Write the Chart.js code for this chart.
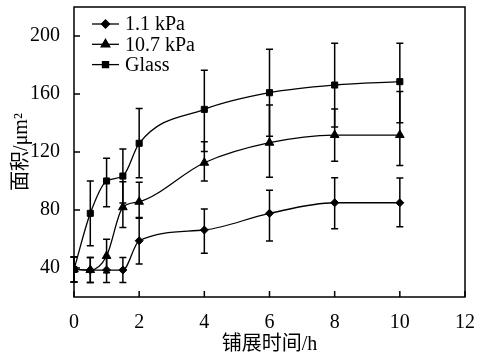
<!DOCTYPE html>
<html>
<head>
<meta charset="utf-8">
<script src="https://cdn.jsdelivr.net/npm/chart.js@4.4.1/dist/chart.umd.min.js"></script>
<style>
html, body { margin: 0; padding: 0; background: #fff; }
#wrap { width: 478px; height: 357px; }
</style>
</head>
<body>
<div id="wrap"><canvas id="chArea"></canvas></div>
<script>
var times = [0, 0.5, 1, 1.5, 2, 4, 6, 8, 10];
var soft = [39, 38.6, 38.6, 38.6, 58.8, 66.2, 77.7, 85, 85];
var softUp = [8.6, 8.6, 8.6, 8.6, 16, 14.5, 16, 17.3, 17];
var softDown = [8.6, 8.6, 8.6, 8.6, 16, 16, 19, 18, 16.5];
var stiff = [39, 38.6, 48.3, 81.9, 85.7, 112.6, 126.4, 131.7, 131.7];
var stiffUp = [8.6, 8.6, 11.5, 17.6, 13.4, 14.5, 26, 18, 30];
var stiffDown = [8.6, 8.6, 11.5, 13.9, 11.4, 12.6, 23.8, 18, 21];
var glass = [39, 77.7, 100, 103.4, 126, 149.4, 160.9, 166.2, 168.5];
var glassUp = [8.6, 22.3, 15.7, 18.6, 24, 27, 30, 28.8, 26.5];
var glassDown = [8.6, 22.3, 17.7, 18.6, 23.7, 29, 30, 29, 28.3];
var labels = ['1.1 kPa', '10.7 kPa', 'Glass'];
var xTicks = [0, 2, 4, 6, 8, 10, 12];
var yTicks = [40, 80, 120, 160, 200];

var serif = "'Liberation Serif', 'Times New Roman', 'Noto Sans CJK SC', serif";

function pts(vals) {
    return vals.map(function (v, i) { return { x: times[i], y: v }; });
}

function makeSet(label, vals, up, down, style, r) {
    return {
        label: label,
        data: pts(vals),
        errUp: up,
        errDown: down,
        borderColor: '#000',
        backgroundColor: '#000',
        borderWidth: 1.3,
        pointStyle: style,
        pointRadius: r,
        pointHoverRadius: r,
        pointBorderWidth: 1,
        cubicInterpolationMode: 'monotone',
        fill: false
    };
}

// error bars with caps, drawn through the scales
var errorBars = {
    id: 'errorBars',
    afterDatasetsDraw: function (chart) {
        var ctx = chart.ctx, xs = chart.scales.x, ys = chart.scales.y;
        ctx.save();
        ctx.strokeStyle = '#000';
        ctx.lineWidth = 1.5;
        chart.data.datasets.forEach(function (ds) {
            ds.data.forEach(function (p, i) {
                var px = xs.getPixelForValue(p.x);
                var top = ys.getPixelForValue(p.y + ds.errUp[i]);
                var bot = ys.getPixelForValue(p.y - ds.errDown[i]);
                ctx.beginPath();
                ctx.moveTo(px, top); ctx.lineTo(px, bot);
                ctx.moveTo(px - 3.5, top); ctx.lineTo(px + 3.5, top);
                ctx.moveTo(px - 3.5, bot); ctx.lineTo(px + 3.5, bot);
                ctx.stroke();
            });
        });
        ctx.restore();
    }
};

// box around the plot and inward ticks
var frame = {
    id: 'frame',
    afterDraw: function (chart) {
        var ctx = chart.ctx, a = chart.chartArea;
        var xs = chart.scales.x, ys = chart.scales.y;
        ctx.save();
        ctx.strokeStyle = '#000';
        ctx.lineWidth = 1.5;
        ctx.strokeRect(a.left, a.top, a.right - a.left, a.bottom - a.top);
        ctx.beginPath();
        xTicks.forEach(function (t) {
            var px = xs.getPixelForValue(t);
            ctx.moveTo(px, a.bottom); ctx.lineTo(px, a.bottom - 6);
        });
        yTicks.forEach(function (t) {
            var py = ys.getPixelForValue(t);
            ctx.moveTo(a.left, py); ctx.lineTo(a.left + 6, py);
        });
        ctx.stroke();
        ctx.restore();
    }
};

// legend inside the plot, line + marker + text
var legendBox = {
    id: 'legendBox',
    afterDraw: function (chart) {
        var ctx = chart.ctx;
        var x0 = 92, x1 = 119, y0 = 24, step = 20.3;
        ctx.save();
        ctx.font = '20px ' + serif;
        ctx.textBaseline = 'middle';
        ctx.fillStyle = '#000';
        chart.data.datasets.forEach(function (ds, i) {
            var y = y0 + i * step;
            ctx.strokeStyle = '#000';
            ctx.lineWidth = 1.3;
            ctx.beginPath();
            ctx.moveTo(x0, y); ctx.lineTo(x1, y);
            ctx.stroke();
            Chart.helpers.drawPoint(ctx, {
                pointStyle: ds.pointStyle, radius: ds.pointRadius, borderWidth: 1, rotation: 0
            }, (x0 + x1) / 2, y);
            ctx.fill();
            ctx.fillText(ds.label, 125, y + 1);
        });
        ctx.restore();
    }
};

var chart = new Chart(document.getElementById('chArea').getContext('2d'), {
    type: 'line',
    data: {
        datasets: [
            makeSet(labels[0], soft, softUp, softDown, 'rectRot', 4),
            makeSet(labels[1], stiff, stiffUp, stiffDown, 'triangle', 5),
            makeSet(labels[2], glass, glassUp, glassDown, 'rect', 4.3)
        ]
    },
    options: {
        responsive: true,
        maintainAspectRatio: false,
        animation: false,
        layout: { padding: { top: 7, right: 13, left: 0, bottom: 0 } },
        plugins: { legend: { display: false }, tooltip: { enabled: false } },
        scales: {
            x: {
                type: 'linear',
                min: 0, max: 12,
                grid: { display: false },
                border: { display: false },
                afterBuildTicks: function (s) { s.ticks = xTicks.map(function (v) { return { value: v }; }); },
                afterFit: function (s) { s.height = 60; s.paddingLeft = 0; s.paddingRight = 0; },
                ticks: { color: '#000', padding: 6, maxRotation: 0, font: { family: serif, size: 20 } },
                title: { display: true, text: '铺展时间/h', color: '#000', padding: { top: 0, bottom: 0 }, font: { family: serif, size: 20 } }
            },
            y: {
                type: 'linear',
                min: 20, max: 220,
                grid: { display: false },
                border: { display: false },
                afterBuildTicks: function (s) { s.ticks = yTicks.map(function (v) { return { value: v }; }); },
                afterFit: function (s) { s.width = 74; s.paddingTop = 0; s.paddingBottom = 0; },
                ticks: { color: '#000', padding: 6, font: { family: serif, size: 20 } },
                title: { display: true, text: '面积/μm²', color: '#000', padding: { top: 10, bottom: 0 }, font: { family: serif, size: 20 } }
            }
        }
    },
    plugins: [errorBars, frame, legendBox]
});
</script>
</body>
</html>
